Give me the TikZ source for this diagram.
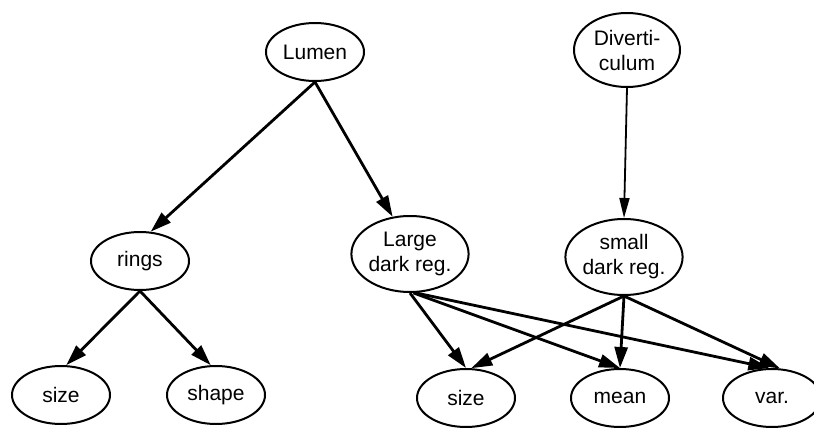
\documentclass[tikz,border=0pt]{standalone}
\usepackage{fontspec}
\setmainfont{Liberation Sans}
\usetikzlibrary{shapes.geometric,arrows.meta}
\tikzset{
  feat/.style={ellipse, draw, line width=2pt, inner sep=0pt,
    minimum width=98pt, minimum height=58pt, align=center,
    font=\fontsize{21}{25}\selectfont},
  bigfeat/.style={feat, minimum width=115pt, minimum height=76pt},
  link/.style={line width=2.8pt, -{Triangle[length=21pt,width=13pt]}},
  thinlink/.style={line width=1.8pt, -{Triangle[length=20pt,width=10pt]}}
}
\begin{document}
\begin{tikzpicture}[x=1pt,y=-1pt]
\useasboundingbox (0,0) rectangle (814,428);
% top-level regions
\node[feat] (lumen) at (315,52) {Lumen};
\node[feat, minimum width=106pt, minimum height=74pt] (div) at (627,50) {Diverti-\\culum};
% second level
\node[feat] (rings) at (140,261) {rings};
\node[bigfeat] (ldr) at (410,254) {Large\\dark reg.};
\node[bigfeat] (sdr) at (624,257) {small\\dark reg.};
% leaf features
\node[feat] (rsize) at (61,395) {size};
\node[feat] (rshape) at (216,395) {shape};
\node[feat] (dsize) at (466,398) {size};
\node[feat] (mean) at (620,398) {mean};
\node[feat] (var) at (772,398) {var.};
% connectors
\draw[link] (lumen.south) -- (rings.70);
\draw[link] (lumen.south) -- (ldr.115);
\draw[thinlink] (div.south) -- (sdr.north);
\draw[link] (rings.south) -- (rsize.80);
\draw[link] (rings.south) -- (rshape.100);
\draw[link] (ldr.south) -- (dsize.north);
\draw[link] (ldr.-85) -- (mean.north);
\draw[link] (ldr.-82) -- (var.95);
\draw[link] (sdr.south) -- (dsize.80);
\draw[link] (sdr.south) -- (mean.north);
\draw[link] (sdr.south) -- (var.75);
\end{tikzpicture}
\end{document}
